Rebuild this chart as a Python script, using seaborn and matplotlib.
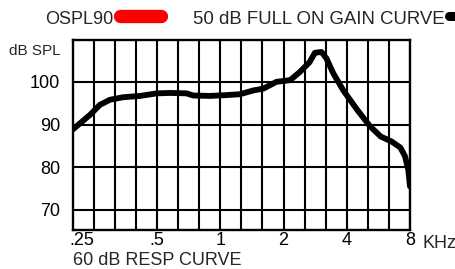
import numpy as np
import pandas as pd
import matplotlib
matplotlib.use('Agg')
import matplotlib.pyplot as plt
from matplotlib.lines import Line2D
from matplotlib.ticker import NullFormatter
import seaborn as sns

# Response curve (kHz, dB SPL)
freq_khz = [0.198, 0.215, 0.240, 0.267, 0.298, 0.345, 0.415, 0.498, 0.575, 0.690,
            0.743, 0.892, 1.07, 1.24, 1.44, 1.60, 1.85, 2.15, 2.39, 2.66,
            2.82, 3.03, 3.20, 3.45, 3.85, 4.46, 5.16, 5.80, 6.55, 7.20,
            7.57, 7.85, 8.0]
spl_db = [88.8, 90.3, 92.3, 94.6, 95.8, 96.4, 96.7, 97.3, 97.4, 97.3,
          96.8, 96.7, 96.9, 97.1, 98.0, 98.4, 100.0, 100.4, 102.3, 104.6,
          106.8, 107.0, 105.5, 102.0, 98.0, 93.6, 89.6, 87.2, 86.0, 84.6,
          82.6, 79.4, 75.5]

x_tick_values = [0.25, 0.5, 1, 2, 4, 8]
x_tick_labels = ['.25', '.5', '1', '2', '4', '8']
y_tick_values = [70, 80, 90, 100]

df = pd.DataFrame({'freq': freq_khz, 'spl': spl_db})

sns.set_style('white')
plt.rcParams['font.family'] = ['Liberation Sans', 'DejaVu Sans']

W, H = 456, 269
fig = plt.figure(figsize=(W / 100, H / 100), dpi=100)
ax = fig.add_axes([72.8 / W, 1 - 230 / H, (410 - 72.8) / W, (230 - 40) / H])

sns.lineplot(data=df, x='freq', y='spl', ax=ax, color='black', linewidth=4.2,
             sort=False, solid_capstyle='round', solid_joinstyle='round', zorder=3)

ax.set_xscale('log', base=2)
ax.set_xlim(8 / 2 ** (16 / 3), 8)
ax.set_ylim(65.3, 109.8)

# third-octave grid
third_oct = [8 / 2 ** (k / 3) for k in range(1, 16)]
ax.set_xticks(third_oct, minor=True)
ax.set_xticks(x_tick_values, x_tick_labels)
ax.xaxis.set_minor_formatter(NullFormatter())
ax.set_yticks(y_tick_values)
ax.grid(True, axis='x', which='both', color='black', linewidth=1.5)
ax.grid(True, axis='y', which='major', color='black', linewidth=1.5)
ax.set_axisbelow(True)
ax.set_xlabel('')
ax.set_ylabel('')

ax.tick_params(axis='both', which='both', length=0, labelsize=13, colors='black')
ax.tick_params(axis='x', pad=1.5)
ax.tick_params(axis='y', pad=9)
for lbl in ax.get_xticklabels():
    if lbl.get_text() == '.25':
        lbl.set_ha('right')

for s in ax.spines.values():
    s.set_color('black')
    s.set_linewidth(1.7)

# labels around the plot
fig.text(9 / W, 1 - 55 / H, 'dB SPL', fontsize=11, va='baseline')
fig.text(423 / W, 1 - 248.3 / H, 'KHz', fontsize=13, va='baseline')
fig.text(73 / W, 1 - 264.7 / H, '60 dB RESP CURVE', fontsize=13, va='baseline')

# legend across the top
fig.text(45 / W, 1 - 24 / H, 'OSPL90', fontsize=13, va='baseline')
fig.add_artist(Line2D([120 / W, 160.6 / W], [1 - 16 / H] * 2, color='red',
                      linewidth=9.6, solid_capstyle='round'))
fig.text(193 / W, 1 - 24 / H, '50 dB FULL ON GAIN CURVE', fontsize=13.4, va='baseline')
fig.add_artist(Line2D([449.5 / W, 470 / W], [1 - 16.2 / H] * 2, color='black',
                      linewidth=6.5, solid_capstyle='round'))

fig.savefig('out.png', dpi=100)
